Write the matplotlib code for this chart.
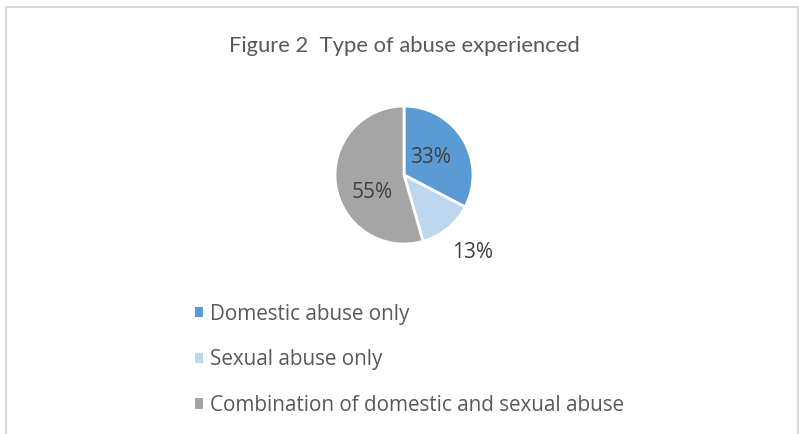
import matplotlib.pyplot as plt
from matplotlib.patches import Rectangle

categories = ["Domestic abuse only", "Sexual abuse only", "Combination of domestic and sexual abuse"]
shares = [33, 13, 55]
colors = ["#5B9BD5", "#BDD7EE", "#A5A5A5"]
# label anchor for each percentage, in units of the pie radius
label_pos = [(0.38, 0.26), (0.99, -1.12), (-0.46, -0.25)]

text_color = "#595959"
plt.rcParams["font.family"] = ["Lato", "DejaVu Sans"]

W, H = 799, 434
fig = plt.figure(figsize=(W / 100, H / 100), dpi=100)

# outer chart frame
fig.patches.append(Rectangle((6 / W, -0.1), (792 / W), (H - 7) / H + 0.1,
                             transform=fig.transFigure, fill=False,
                             edgecolor="#D9D9D9", linewidth=1.5))

fig.text(404 / W, 1 - 45.5 / H, "Figure 2  Type of abuse experienced",
         ha="center", va="center", fontsize=15.8, color=text_color)

# pie area: centre (404, 175), radius 69 px
r = 69
ax = fig.add_axes([(404 - r) / W, 1 - (175 + r) / H, 2 * r / W, 2 * r / H])
wedges, _ = ax.pie(shares, colors=colors, startangle=90, counterclock=False,
                   wedgeprops=dict(edgecolor="white", linewidth=2))
ax.set_aspect("equal")
ax.set_xlim(-1, 1)
ax.set_ylim(-1, 1)

for v, (x, y) in zip(shares, label_pos):
    ax.text(x, y, f"{v}%", ha="center", va="center", family=["Open Sans", "DejaVu Sans"],
            fontsize=15, color="#404040", clip_on=False)

leg = fig.legend(wedges, categories, loc="upper left",
                 bbox_to_anchor=(176 / W, 1 - 285 / H), frameon=False,
                 prop=dict(family=["Open Sans", "DejaVu Sans"], size=14.9),
                 labelcolor=text_color,
                 handlelength=0.4, handleheight=0.4, handletextpad=0.33,
                 labelspacing=1.19)
for h in leg.legend_handles:
    h.set_edgecolor("none")

fig.savefig("out.png", dpi=100, facecolor="white")
